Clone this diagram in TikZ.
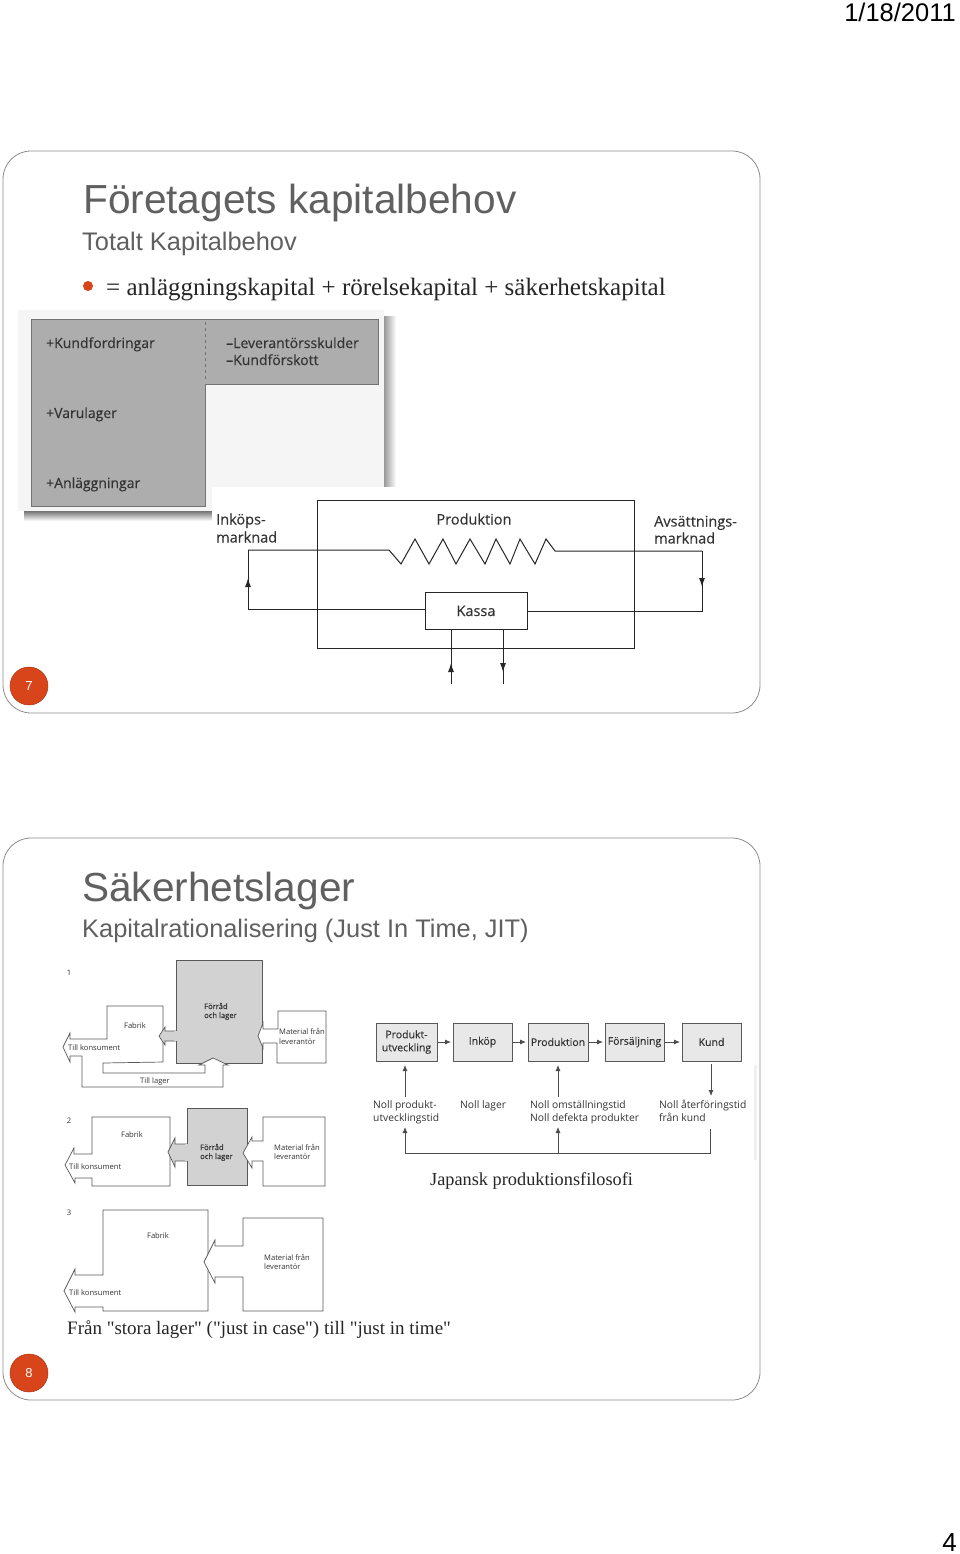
\documentclass[tikz,border=0pt]{standalone}
\usepackage{fontspec}
\setmainfont{Liberation Serif}
\newfontfamily\plainserif{Liberation Serif}
\newfontfamily\hdfont{Liberation Sans}
\newfontfamily\scanfont{Open Sans}
\newfontfamily\scanbold[FakeBold=0.25]{Open Sans}
\usetikzlibrary{arrows.meta}
\definecolor{accent}{HTML}{D8451B}
\definecolor{titlegray}{HTML}{606060}
\definecolor{framegray}{HTML}{8C8C8C}
\definecolor{capgray}{HTML}{ADADAD}
\definecolor{boxgray}{HTML}{D2D2D2}
\definecolor{flowgray}{HTML}{E8E8E8}
\definecolor{inkgray}{HTML}{333333}
\tikzset{
  slideframe/.style={draw=framegray,line width=0.8pt,rounded corners=28pt,fill=white},
  badge/.style={circle,fill=accent,draw=accent!80!black,line width=0.5pt,minimum size=38pt,inner sep=0pt,text=white,font=\hdfont\fontsize{13}{13}\selectfont},
  titletext/.style={anchor=west,inner sep=0pt,text height=28pt,text depth=0pt,text=titlegray,font=\hdfont\fontsize{40.6}{40.6}\selectfont},
  subtext/.style={anchor=west,inner sep=0pt,text height=18pt,text depth=0pt,text=titlegray,font=\hdfont\fontsize{25.4}{25.4}\selectfont},
  bodytext/.style={anchor=west,inner sep=0pt,text height=16pt,text depth=0pt,text=black!85,font=\plainserif\fontsize{25}{25}\selectfont},
  captext/.style={anchor=west,inner sep=0pt,text height=13pt,text depth=0pt,text=black!85,font=\plainserif\fontsize{19}{19}\selectfont},
  capleft/.style={anchor=west,inner sep=0pt,text height=10pt,text depth=0pt,text=inkgray,font=\scanbold\fontsize{14}{14}\selectfont},
  cyclelabel/.style={inner sep=0pt,text height=11pt,text depth=0pt,text=inkgray,font=\scanbold\fontsize{14.5}{14.5}\selectfont},
  smalllabel/.style={inner sep=0pt,text height=6pt,text depth=0pt,text=inkgray,font=\scanfont\fontsize{7.6}{8}\selectfont},
  boldsmall/.style={smalllabel,font=\scanbold\fontsize{7.6}{8}\selectfont},
  flowlabel/.style={anchor=west,inner sep=0pt,text height=6pt,text depth=0pt,text=inkgray,font=\scanfont\fontsize{10.3}{10.3}\selectfont},
  flowbox/.style={draw=black!65,line width=1pt,fill=flowgray,inner sep=0pt,text=inkgray,font=\scanbold\fontsize{10.5}{13}\selectfont,align=center},
  scanline/.style={draw=black!85,line width=1pt},
  thinline/.style={draw=black!70,line width=0.8pt},
  headarrow/.style={-{Latex[length=9pt,width=6pt]},draw=black!85,line width=1pt},
  smallarrow/.style={-{Latex[length=6pt,width=5pt]},draw=black!70,line width=0.8pt},
  blockline/.style={draw=black!65,line width=0.7pt},
}
\begin{document}
\begin{tikzpicture}[x=1pt,y=-1pt]
\useasboundingbox (0,0) rectangle (960,1554);
\fill[white] (0,0) rectangle (960,1554);
% header and footer
\node[anchor=east,inner sep=0pt,font=\hdfont\fontsize{25.5}{25.5}\selectfont] (date) at (956,12) {1/18/2011};
\node[anchor=east,inner sep=0pt,font=\hdfont\fontsize{26}{26}\selectfont] (pageno) at (957,1543) {4};
% slide frames
\draw[slideframe] (3,151) rectangle (760,713);
\draw[slideframe] (3,838) rectangle (760,1400);
\node[badge] (badge7) at (29,686) {7};
\node[badge] (badge8) at (29,1373) {8};
% slide 1 text
\node[titletext] (title1) at (83,200) {Företagets kapitalbehov};
\node[subtext] (sub1) at (82,242) {Totalt Kapitalbehov};
\fill[accent] (88,286) circle (5pt);
\node[bodytext] (body1) at (106,287) {= anläggningskapital + rörelsekapital + säkerhetskapital};
% capital picture
\shade[top color=black!55,bottom color=white] (24,511) rectangle (212,521);
\shade[left color=black!40,right color=white] (384,316) rectangle (396,487);
\fill[black!4] (18,310) rectangle (384,511);
\fill[white] (212,487) rectangle (400,530);
\filldraw[fill=capgray,draw=black!55,line width=0.7pt] (31.5,319) -- (378,319) -- (378,384) -- (205,384) -- (205,506) -- (31.5,506) -- cycle;
\draw[black!55,line width=0.7pt,dashed] (205,322) -- (205,380);
\node[capleft] (kf) at (46,343) {+Kundfordringar};
\node[capleft] (ls) at (226,343) {–Leverantörsskulder};
\node[capleft] (ks) at (226,360) {–Kundförskott};
\node[capleft] (vl) at (46,413) {+Varulager};
\node[capleft] (an) at (46,483) {+Anläggningar};
% cycle picture
\node[draw=black!85,line width=1pt,minimum width=317pt,minimum height=148pt,inner sep=0pt,anchor=north west] (prod) at (317,500) {};
\node[draw=black!85,line width=1pt,fill=white,minimum width=102pt,minimum height=37pt,inner sep=0pt,cyclelabel] (kassa) at (476,610.5) {Kassa\hspace{3pt}};
\node[cyclelabel] (prodlabel) at (474,519) {Produktion};
\node[cyclelabel,anchor=west] (ink1) at (216,519) {Inköps-};
\node[cyclelabel,anchor=west] (ink2) at (216,537) {marknad};
\node[cyclelabel,anchor=west] (avs1) at (654,521) {Avsättnings-};
\node[cyclelabel,anchor=west] (avs2) at (654,538) {marknad};
\coordinate (lt) at (248,550);
\coordinate (lb) at (248,609.5);
\coordinate (lm) at (248,578);
\coordinate (rt) at (702,551);
\coordinate (rb) at (702,611);
\coordinate (rm) at (702,587);
\coordinate (d1) at (451,684);
\coordinate (d1m) at (451,663);
\coordinate (d2) at (503,684);
\coordinate (d2m) at (503,672);
\draw[scanline] (lt) -- (389,550) -- (401,564) -- (415,539) -- (429,564) -- (443,539) -- (456,564) -- (470,539) -- (485,564) -- (496,539) -- (510,564) -- (520,539) -- (535,564) -- (546,539) -- (555,551) -- (rt);
\draw[scanline] (kassa.west|-lb) -- (lb) -- (lm);
\draw[headarrow] (lb) -- (lm);
\draw[scanline] (lm) -- (lt);
\draw[scanline] (rt) -- (rm);
\draw[headarrow] (rt) -- (rm);
\draw[scanline] (rm) -- (rb) -- (kassa.east|-rb);
\draw[scanline] (d1) -- (d1|-kassa.south);
\draw[headarrow] (d1) -- (d1m);
\draw[scanline] (d2|-kassa.south) -- (d2);
\draw[headarrow] (d2|-kassa.south) -- (d2m);
% slide 2 text
\node[titletext] (title2) at (82,887) {Säkerhetslager};
\node[subtext] (sub2) at (82,928) {Kapitalrationalisering (Just In Time, JIT)};
\node[captext] (cap1) at (67,1328) {Från "stora lager" ("just in case") till "just in time"};
\node[captext,font=\plainserif\fontsize{18.3}{18.3}\selectfont] (cap2) at (430,1179) {Japansk produktionsfilosofi};
% stock scheme 1
\node[smalllabel] (n1) at (69,972) {1};
\filldraw[fill=boxgray,blockline] (176,960) rectangle (262,1063);
\filldraw[fill=white,blockline] (107,1006) -- (163,1006) -- (163,1062) -- (103,1063) -- (103,1073) -- (205,1073) -- (205,1065) -- (199,1065) -- (213,1058) -- (228,1065) -- (223,1065) -- (223,1087) -- (82,1087) -- (82,1056) -- (70,1056) -- (70,1062) -- (63,1047) -- (70,1033) -- (70,1039) -- (107,1039) -- cycle;
\filldraw[fill=boxgray,blockline] (176,1031) -- (165,1031) -- (165,1027) -- (159,1036) -- (165,1045) -- (165,1041) -- (176,1041);
\fill[boxgray] (174,1031.4) rectangle (177,1040.6);
\filldraw[fill=white,blockline] (278,1011) -- (326,1011) -- (326,1063) -- (277,1063) -- (277,1043) -- (263,1043) -- (263,1048) -- (258,1036) -- (263,1023) -- (263,1029) -- (278,1029) -- cycle;
\node[smalllabel] (fab1) at (135,1025) {Fabrik};
\node[boldsmall,anchor=west] (for1a) at (204,1006) {Förråd};
\node[boldsmall,anchor=west] (for1b) at (204,1015) {och lager};
\node[smalllabel,anchor=west] (mat1a) at (279,1031) {Material från};
\node[smalllabel,anchor=west] (mat1b) at (279,1041) {leverantör};
\node[smalllabel,anchor=west] (kon1) at (68,1047) {Till konsument};
\node[smalllabel] (lag1) at (155,1080) {Till lager};
% stock scheme 2
\node[smalllabel] (n2) at (69,1120) {2};
\filldraw[fill=boxgray,blockline] (187,1108) rectangle (247,1185);
\filldraw[fill=white,blockline] (92,1117) -- (170,1117) -- (170,1186) -- (92,1186) -- (92,1178) -- (75,1178) -- (75,1183) -- (65,1165) -- (74,1148) -- (74,1154) -- (92,1154) -- cycle;
\filldraw[fill=boxgray,blockline] (187,1144) -- (175,1144) -- (175,1138) -- (168,1152) -- (175,1167) -- (175,1161) -- (187,1161);
\fill[boxgray] (185,1144.4) rectangle (188,1160.6);
\filldraw[fill=white,blockline] (263,1117) -- (325,1117) -- (325,1186) -- (263,1186) -- (263,1161) -- (252,1161) -- (252,1168) -- (243,1153) -- (252,1137) -- (252,1141) -- (263,1141) -- cycle;
\node[smalllabel] (fab2) at (132,1134) {Fabrik};
\node[boldsmall,anchor=west] (for2a) at (200,1147) {Förråd};
\node[boldsmall,anchor=west] (for2b) at (200,1156) {och lager};
\node[smalllabel,anchor=west] (mat2a) at (274,1147) {Material från};
\node[smalllabel,anchor=west] (mat2b) at (274,1156) {leverantör};
\node[smalllabel,anchor=west] (kon2) at (69,1166) {Till konsument};
% stock scheme 3
\node[smalllabel] (n3) at (69,1212) {3};
\filldraw[fill=white,blockline] (103,1210) -- (208,1210) -- (208,1311) -- (103,1311) -- (103,1307) -- (75,1307) -- (75,1312) -- (64,1291) -- (75,1269) -- (75,1275) -- (103,1275) -- cycle;
\filldraw[fill=white,blockline] (243,1218) -- (323,1218) -- (323,1311) -- (243,1311) -- (243,1277) -- (215,1277) -- (215,1283) -- (204,1262) -- (215,1240) -- (215,1246) -- (243,1246) -- cycle;
\node[smalllabel] (fab3) at (158,1235) {Fabrik};
\node[smalllabel,anchor=west] (mat3a) at (264,1257) {Material från};
\node[smalllabel,anchor=west] (mat3b) at (264,1266) {leverantör};
\node[smalllabel,anchor=west] (kon3) at (69,1292) {Till konsument};
% production flow
\fill[black!6] (754,1065) rectangle (757,1160);
\node[flowbox,minimum width=61pt,minimum height=38pt] (fb1) at (406.5,1042) {Produkt-\\utveckling};
\node[flowbox,minimum width=59pt,minimum height=38pt] (fb2) at (482.5,1042) {Inköp};
\node[flowbox,minimum width=60pt,minimum height=38pt] (fb3) at (558,1042) {Produktion};
\node[flowbox,minimum width=59pt,minimum height=38pt] (fb4) at (634.5,1042) {Försäljning};
\node[flowbox,minimum width=59pt,minimum height=38pt] (fb5) at (711.5,1042) {Kund};
\draw[smallarrow,shorten >=1.5pt] (fb1) -- (fb2);
\draw[smallarrow,shorten >=1.5pt] (fb2) -- (fb3);
\draw[smallarrow,shorten >=1.5pt] (fb3) -- (fb4);
\draw[smallarrow,shorten >=1.5pt] (fb4) -- (fb5);
\node[flowlabel] (z1a) at (373,1105) {Noll produkt-};
\node[flowlabel] (z1b) at (373,1118) {utvecklingstid};
\node[flowlabel] (z2) at (460,1105) {Noll lager};
\node[flowlabel] (z3a) at (530,1105) {Noll omställningstid};
\node[flowlabel] (z3b) at (530,1118) {Noll defekta produkter};
\node[flowlabel] (z4a) at (659,1105) {Noll återföringstid};
\node[flowlabel] (z4b) at (659,1118) {från kund};
\coordinate (u1) at (405,1097);
\coordinate (u2) at (558,1097);
\coordinate (u3) at (711,1064);
\coordinate (u4) at (711,1096);
\coordinate (l1t) at (405,1127);
\coordinate (l2t) at (558,1127);
\coordinate (l3t) at (710,1129);
\coordinate (l1) at (405,1153);
\coordinate (l2) at (558,1153);
\coordinate (l3) at (710,1153);
\draw[smallarrow,shorten >=3.5pt] (u1) -- (u1|-fb1.south);
\draw[smallarrow,shorten >=3.5pt] (u2) -- (u2|-fb3.south);
\draw[smallarrow] (u3) -- (u4);
\draw[smallarrow] (l1) -- (l1t);
\draw[smallarrow] (l2) -- (l2t);
\draw[thinline] (l1) -- (l3) -- (l3t);
\end{tikzpicture}
\end{document}
